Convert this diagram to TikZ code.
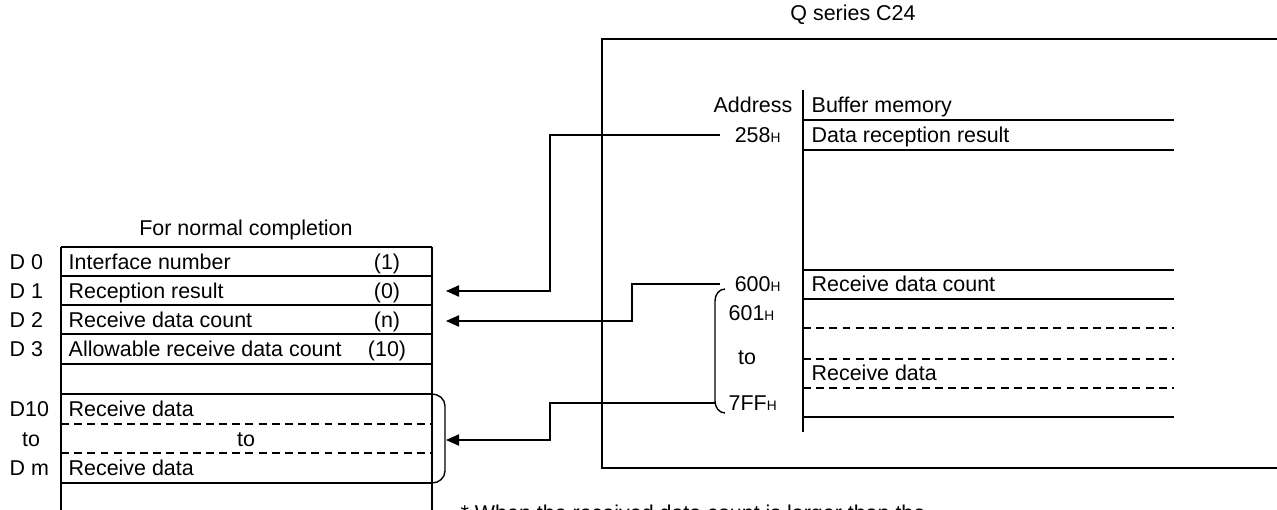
\documentclass[tikz,border=0pt]{standalone}
\usepackage{fontspec}
\setmainfont{Liberation Sans}
\usetikzlibrary{arrows.meta, positioning}

\newcommand{\hexaddr}[1]{#1{\fontsize{7.8}{8}\selectfont H}}

\begin{document}
\begin{tikzpicture}[x=0.02cm, y=-0.02cm, line width=0.8pt,
  >={Triangle[length=7.5pt,width=6.5pt]},
  lbl/.style={font=\fontsize{12.2}{13}\selectfont, inner sep=0pt,
              text height=8.7pt, text depth=0pt},
  cell/.style={lbl, anchor=west},
  addr/.style={lbl, anchor=west, inner xsep=8pt},
  conn/.style={->},
  sep/.style={dashed, dash pattern=on 4.5pt off 3pt}]
\useasboundingbox (0,0) rectangle (1277,510);
\clip (0,0) rectangle (1277,510);

% Q series C24 module
\node[lbl] (qtitle) at (853,13) {Q series C24};
\draw (1290,39) -- (602,39) -- (602,468) -- (1290,468);

% Buffer memory table
\draw (803,90) -- (803,432);
\node[lbl, anchor=east] (addrhd) at (793,105) {Address};
\node[cell] (bufhd) at (811,105) {Buffer memory};
\foreach \y in {120,150,270,299,417} \draw (803,\y) -- (1174,\y);
\foreach \y in {328,359,388} \draw[sep] (803,\y) -- (1174,\y);
\node[cell] (bres) at (811,135) {Data reception result};
\node[cell] (bcnt) at (811,284) {Receive data count};
\node[cell] (bdata) at (811,373) {Receive data};

% Addresses
\node[addr] (a258) at (720,135) {\hexaddr{258}};
\node[addr] (a600) at (720,284) {\hexaddr{600}};
\node[cell] (a601) at (728,313) {\hexaddr{601}};
\node[lbl] (ato) at (747,357) {to};
\node[cell] (a7ff) at (728,403) {\hexaddr{7FF}};
\draw (725,289) to[out=180,in=90] (715,301) -- (715,401)
      to[out=-90,in=180] (725,413);
\coordinate (brkL) at (715,403);

% Device table (normal completion)
\node[lbl] (dtitle) at (246,228) {For normal completion};
\foreach \y in {247,276,305,334,364,394,483} \draw (61,\y) -- (432,\y);
\foreach \y in {424,453} \draw[sep] (61,\y) -- (432,\y);
\draw (61,247) -- (61,520);
\draw (432,247) -- (432,520);
\foreach \y/\dev/\txt/\val/\nm in {261.5/D 0/Interface number/(1)/d0,
    290.5/D 1/Reception result/(0)/d1,
    319.5/D 2/Receive data count/(n)/d2,
    349/D 3/Allowable receive data count/(10)/d3} {
  \node[cell] (\nm lab) at (9,\y) {\dev};
  \node[cell] (\nm) at (68,\y) {\txt};
  \node[lbl] (\nm val) at (387,\y) {\val};
}
\node[cell] (d10lab) at (9,409) {D10};
\node[cell] (d10) at (68,409) {Receive data};
\node[lbl] (dtolab) at (31,438.5) {to};
\node[lbl] (dto) at (246,438.5) {to};
\node[cell] (dmlab) at (9,468) {D m};
\node[cell] (dm) at (68,468) {Receive data};
\draw (432,394) to[out=0,in=90] (445,406) -- (445,471)
      to[out=-90,in=0] (432,483);

% Arrow ends
\coordinate (tipA) at (446,291);
\coordinate (tipB) at (446,321);
\coordinate (tipC) at (446,440);

% Connectors
\draw[conn] (a258.west) -- ++(-170,0) |- (tipA);
\draw[conn] (a600.west) -- ++(-88,0) |- (tipB);
\draw[conn] (brkL) -- ++(-165,0) |- (tipC);

% Note
\node[cell] (note) at (460,512.5) {* When the received data count is larger than the};
\end{tikzpicture}
\end{document}
